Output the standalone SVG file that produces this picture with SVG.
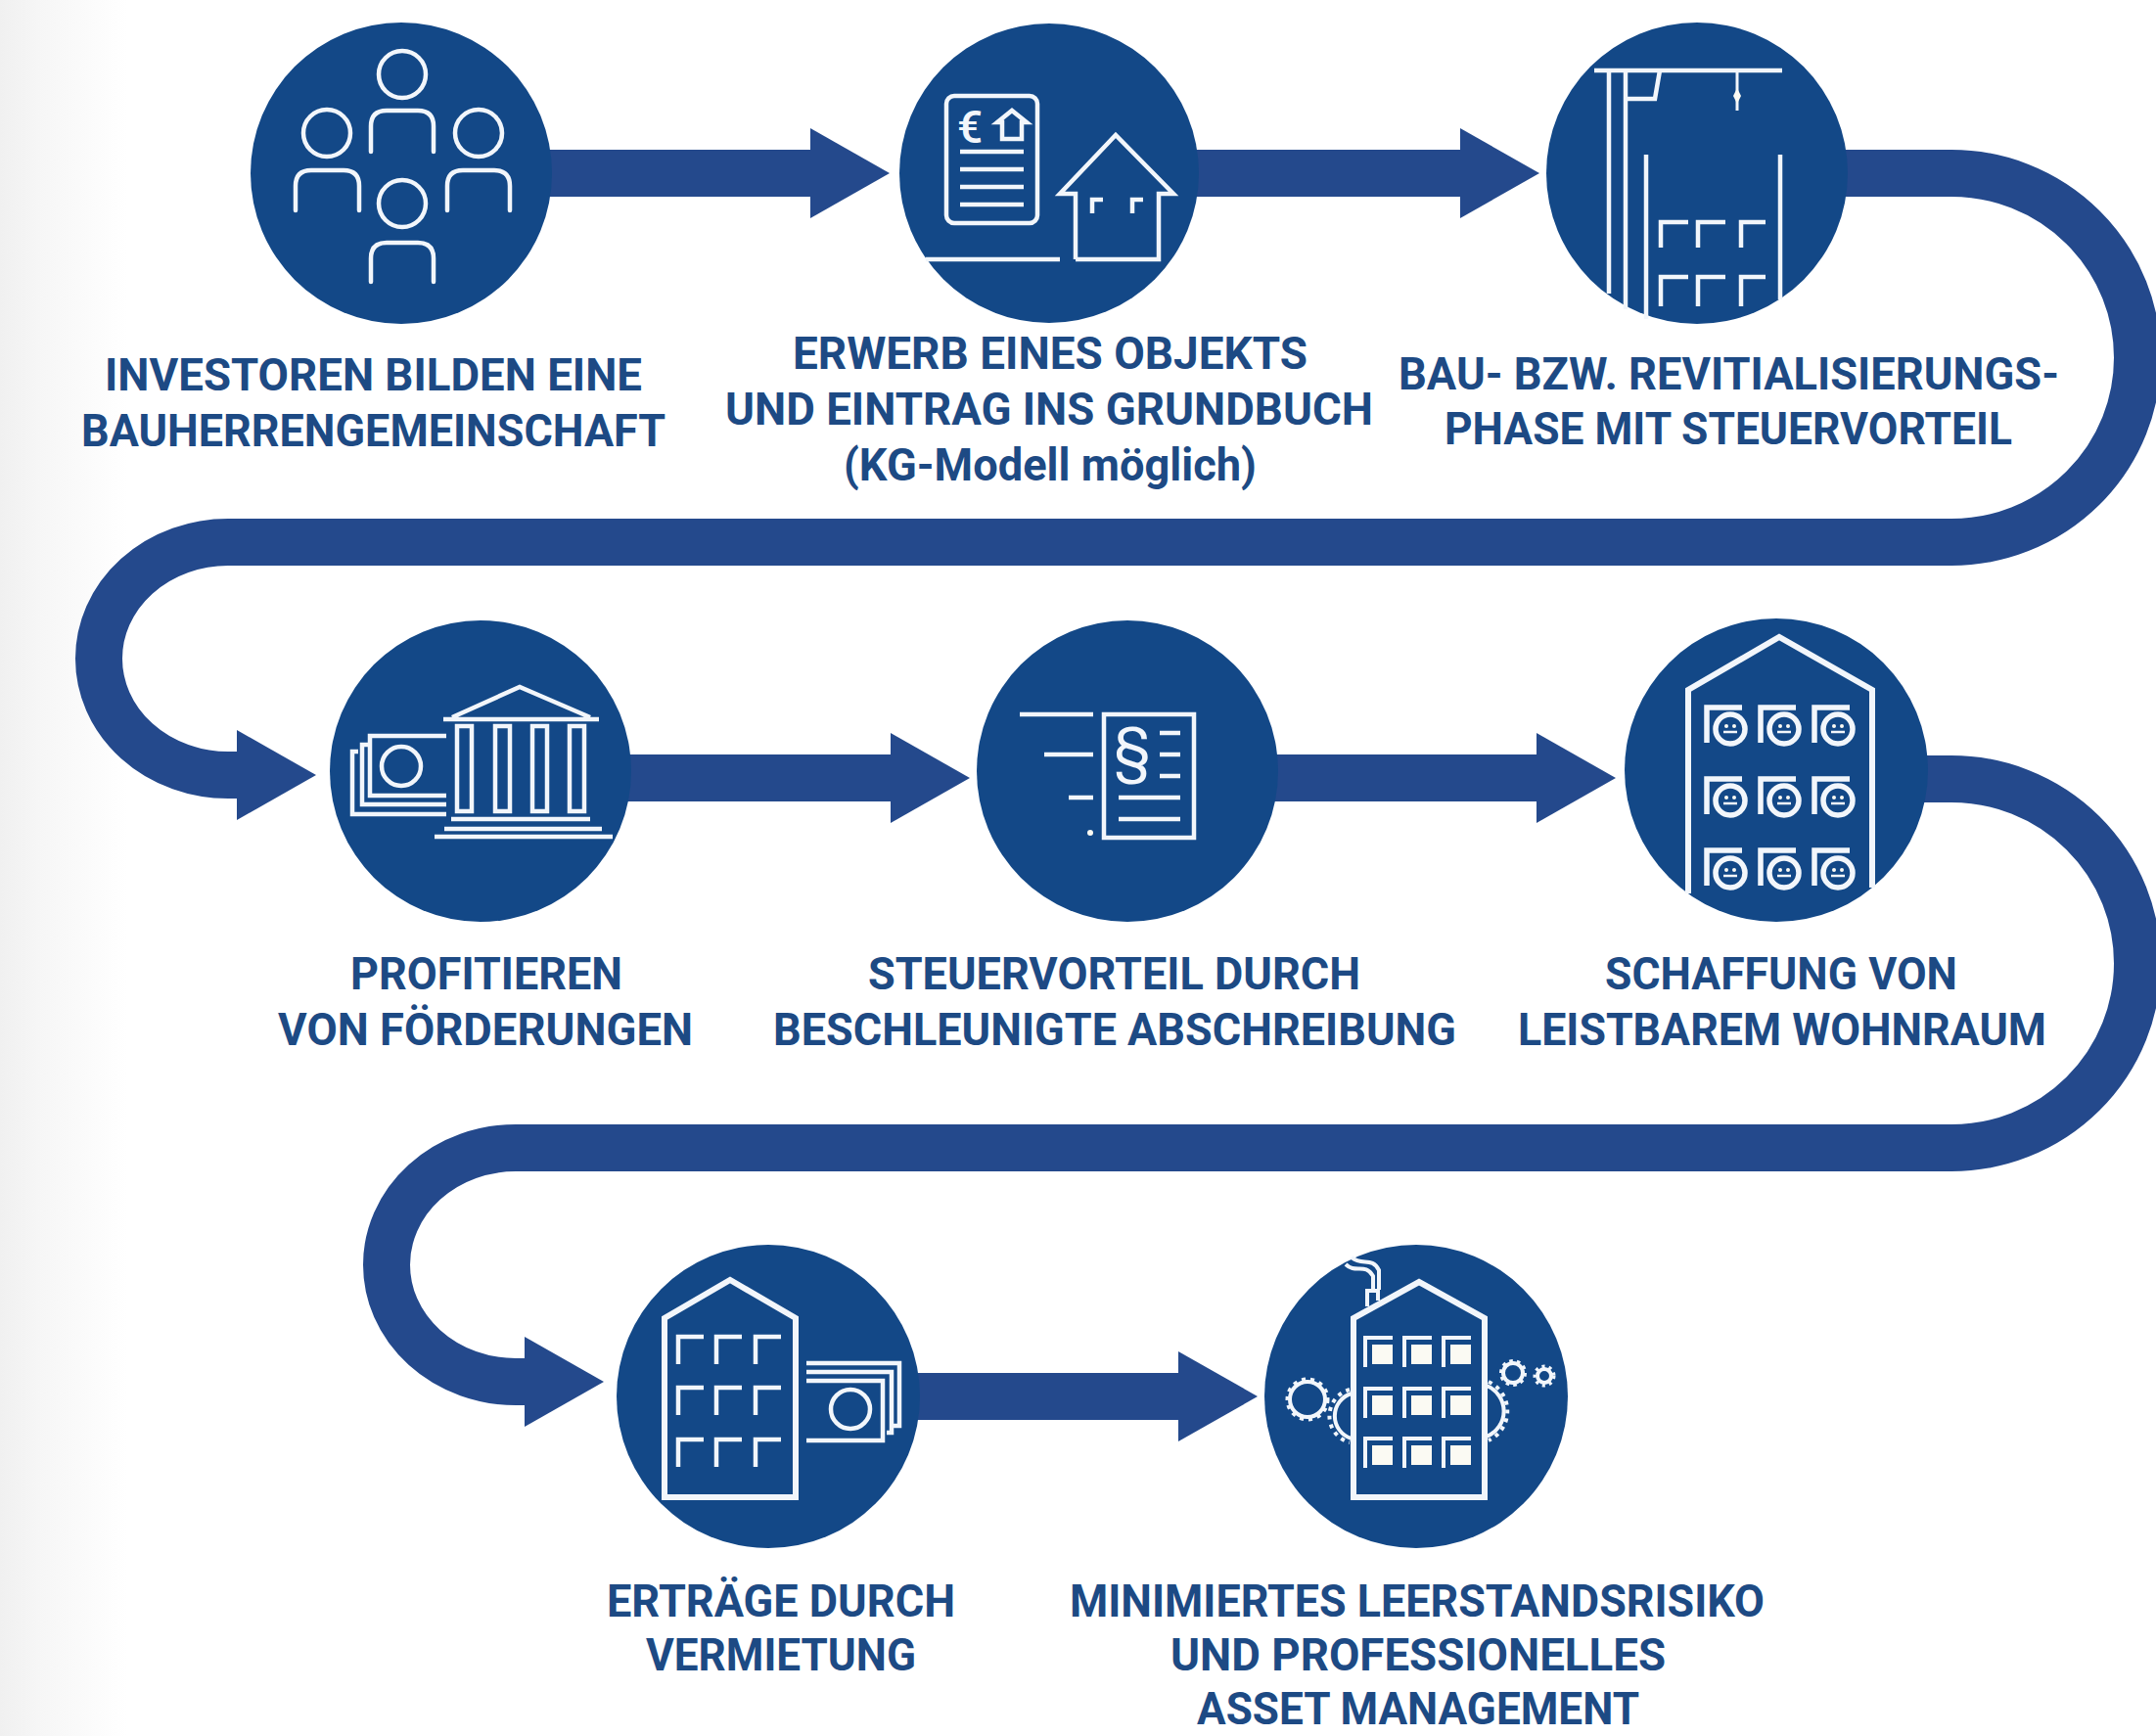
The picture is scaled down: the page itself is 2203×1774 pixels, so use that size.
<svg xmlns="http://www.w3.org/2000/svg" xmlns:xlink="http://www.w3.org/1999/xlink" width="2203" height="1774" viewBox="0 0 2203 1774">
<style>
.disc{fill:#134887}
.ic{fill:none;stroke:#f2f6fb;stroke-width:4.5;stroke-linecap:butt;stroke-linejoin:miter}
.ir{stroke-linecap:round;stroke-linejoin:round}
.t{stroke-width:4}
.fl{fill:#fbfaf3;stroke:none}
.gear{fill:none;stroke:#f2f6fb}
.lb{font-family:"Roboto","Liberation Sans",sans-serif;font-weight:700;font-size:47px;fill:#1d4a84}
.lb.s{font-size:46px}
.sym{font-family:"Roboto","Liberation Sans",sans-serif;fill:#f2f6fb}
.con{fill:none;stroke:#24498c;stroke-width:48}
</style>
<defs>
<linearGradient id="edge" x1="0" x2="1" y1="0" y2="0"><stop offset="0" stop-color="#f0f0f0"/><stop offset=".3" stop-color="#f6f6f6"/><stop offset="1" stop-color="#ffffff"/></linearGradient>
<marker id="head" markerUnits="userSpaceOnUse" markerWidth="82" markerHeight="94" refX="1" refY="46" orient="auto" overflow="visible"><path d="M0 0L81 46L0 92z" fill="#24498c"/></marker>
<path id="gamma" d="M0 28V0H26" class="ic"/>
<g id="face"><circle r="15" class="ic" style="stroke-width:5.5"/><circle cx="-4" cy="-3" r="2" class="fl"/><circle cx="4" cy="-3" r="2" class="fl"/><path d="M-7 3H7" class="ic" style="stroke-width:2.5"/></g>
<path id="gamma2" d="M0 36V0H36" class="ic" style="stroke-width:5.5"/>
<g id="win"><path d="M0 30V0H28" class="ic t"/><rect x="7" y="7" width="21" height="20" class="fl"/></g>
</defs>
<rect width="2203" height="1774" fill="#ffffff"/>
<rect width="130" height="1774" fill="url(#edge)"/>

<g id="connectors">
<path class="con" marker-end="url(#head)" d="M540 177H829"/>
<path class="con" marker-end="url(#head)" d="M1200 177H1493"/>
<path class="con" marker-end="url(#head)" d="M1860 177H1994A190 188.5 0 0 1 1994 554H233A132 119 0 0 0 233 792H243"/>
<path class="con" marker-end="url(#head)" d="M620 795H911"/>
<path class="con" marker-end="url(#head)" d="M1280 795H1571"/>
<path class="con" marker-end="url(#head)" d="M1950 796H1994A190 188.5 0 0 1 1994 1173H527A132 119.5 0 0 0 527 1412H537"/>
<path class="con" marker-end="url(#head)" d="M910 1427H1205"/>
</g>

<g id="node1">
<circle class="disc" cx="410" cy="177" r="154"/>
<g class="ic ir">
<circle cx="411" cy="76" r="24"/><path d="M379 155V129Q379 113 395 113H427Q443 113 443 129V155"/>
<circle cx="334" cy="136" r="24"/><path d="M302 215V190Q302 174 318 174H351Q367 174 367 190V215"/>
<circle cx="489" cy="136" r="24"/><path d="M457 215V190Q457 174 473 174H505Q521 174 521 190V215"/>
<circle cx="411" cy="208" r="24"/><path d="M379 288V264Q379 248 395 248H427Q443 248 443 264V288"/>
</g>
<text class="lb" x="107" y="399" textLength="549" lengthAdjust="spacingAndGlyphs">INVESTOREN BILDEN EINE</text>
<text class="lb" x="83" y="456" textLength="597" lengthAdjust="spacingAndGlyphs">BAUHERRENGEMEINSCHAFT</text>
</g>

<g id="node2">
<circle class="disc" cx="1072" cy="177" r="153"/>
<rect class="ic" x="967" y="98" width="93" height="130" rx="8"/>
<text class="sym" x="991" y="146" font-size="46" font-weight="500" text-anchor="middle">€</text>
<path class="ic" d="M1024 142V125H1019L1034 113L1049 125H1044V142Z"/>
<path class="ic" d="M981 155H1046M981 173H1046M981 191H1046M981 209H1046"/>
<path class="ic" d="M1099 265V198H1083L1140 138L1199 198H1184V265H1099M946 265H1083"/>
<path class="ic" d="M1116 218V204H1127M1157 218V204H1168"/>
<text class="lb" x="810" y="377" textLength="526" lengthAdjust="spacingAndGlyphs">ERWERB EINES OBJEKTS</text>
<text class="lb" x="741" y="434" textLength="662" lengthAdjust="spacingAndGlyphs">UND EINTRAG INS GRUNDBUCH</text>
<text class="lb" x="862" y="491" textLength="422" lengthAdjust="spacingAndGlyphs">(KG-Modell möglich)</text>
</g>

<g id="node3">
<circle class="disc" cx="1734" cy="177" r="154"/>
<path class="ic" d="M1629 72H1821M1644 72V300M1661 72V316M1661 101H1691L1696 72"/>
<path class="ic" d="M1775 72V113" style="stroke-width:3"/><path class="fl" d="M1775 90L1779 98L1775 106L1771 98Z"/>
<path class="ic" d="M1682 158V326M1819 158V306"/>
<path class="ic" d="M1697 253V227H1725M1735 253V227H1763M1779 253V227H1804M1697 313V283H1725M1735 313V283H1763M1779 313V283H1804"/>
<text class="lb" x="1429" y="398" textLength="675" lengthAdjust="spacingAndGlyphs">BAU- BZW. REVITIALISIERUNGS-</text>
<text class="lb" x="1476" y="454" textLength="580" lengthAdjust="spacingAndGlyphs">PHASE MIT STEUERVORTEIL</text>
</g>

<g id="node4">
<circle class="disc" cx="491" cy="788" r="154"/>
<path class="ic" d="M453 735H612M462 733L531 702L603 733"/>
<rect class="ic" x="467" y="742" width="15" height="87"/><rect class="ic" x="506" y="742" width="15" height="87"/><rect class="ic" x="544" y="742" width="15" height="87"/><rect class="ic" x="582" y="742" width="15" height="87"/>
<path class="ic" d="M461 837H603M454 847H615M444 855H626"/>
<path class="ic" d="M456 752H378V813H456M376 761H370V822H456M366 768H360V832H456"/>
<circle class="ic" cx="410" cy="783" r="20"/>
<text class="lb" x="358" y="1011" textLength="278" lengthAdjust="spacingAndGlyphs">PROFITIEREN</text>
<text class="lb" x="284" y="1068" textLength="424" lengthAdjust="spacingAndGlyphs">VON FÖRDERUNGEN</text>
</g>

<g id="node5">
<circle class="disc" cx="1152" cy="788" r="154"/>
<rect class="ic" x="1128" y="730" width="92" height="126"/>
<text class="sym" x="1157" y="787" font-size="62" font-weight="400" text-anchor="middle">§</text>
<path class="ic" d="M1185 749H1206M1185 771H1206M1185 793H1206M1143 815H1206M1143 837H1206M1042 730H1117M1067 771H1117M1092 815H1117"/>
<circle class="fl" cx="1114" cy="851" r="3"/>
<text class="lb" x="887" y="1011" textLength="503" lengthAdjust="spacingAndGlyphs">STEUERVORTEIL DURCH</text>
<text class="lb" x="790" y="1068" textLength="698" lengthAdjust="spacingAndGlyphs">BESCHLEUNIGTE ABSCHREIBUNG</text>
</g>

<g id="node6">
<circle class="disc" cx="1815" cy="787" r="155"/>
<path class="ic" d="M1725 913V705L1818 651L1913 705V907" style="stroke-width:6"/>
<use xlink:href="#gamma2" href="#gamma2" x="1744" y="723"/><use xlink:href="#gamma2" href="#gamma2" x="1799" y="723"/><use xlink:href="#gamma2" href="#gamma2" x="1854" y="723"/>
<use xlink:href="#gamma2" href="#gamma2" x="1744" y="796"/><use xlink:href="#gamma2" href="#gamma2" x="1799" y="796"/><use xlink:href="#gamma2" href="#gamma2" x="1854" y="796"/>
<use xlink:href="#gamma2" href="#gamma2" x="1744" y="869"/><use xlink:href="#gamma2" href="#gamma2" x="1799" y="869"/><use xlink:href="#gamma2" href="#gamma2" x="1854" y="869"/>
<use xlink:href="#face" href="#face" x="1768" y="745"/><use xlink:href="#face" href="#face" x="1823" y="745"/><use xlink:href="#face" href="#face" x="1878" y="745"/>
<use xlink:href="#face" href="#face" x="1768" y="818"/><use xlink:href="#face" href="#face" x="1823" y="818"/><use xlink:href="#face" href="#face" x="1878" y="818"/>
<use xlink:href="#face" href="#face" x="1768" y="892"/><use xlink:href="#face" href="#face" x="1823" y="892"/><use xlink:href="#face" href="#face" x="1878" y="892"/>
<text class="lb" x="1640" y="1011" textLength="360" lengthAdjust="spacingAndGlyphs">SCHAFFUNG VON</text>
<text class="lb" x="1551" y="1068" textLength="540" lengthAdjust="spacingAndGlyphs">LEISTBAREM WOHNRAUM</text>
</g>

<g id="node7">
<circle class="disc" cx="785" cy="1427" r="155"/>
<path class="ic" d="M679 1530V1347L746 1308L813 1347V1530Z" style="stroke-width:6"/>
<use xlink:href="#gamma" href="#gamma" x="693" y="1366"/><use xlink:href="#gamma" href="#gamma" x="732" y="1366"/><use xlink:href="#gamma" href="#gamma" x="772" y="1366"/>
<use xlink:href="#gamma" href="#gamma" x="693" y="1418"/><use xlink:href="#gamma" href="#gamma" x="732" y="1418"/><use xlink:href="#gamma" href="#gamma" x="772" y="1418"/>
<use xlink:href="#gamma" href="#gamma" x="693" y="1471"/><use xlink:href="#gamma" href="#gamma" x="732" y="1471"/><use xlink:href="#gamma" href="#gamma" x="772" y="1471"/>
<path class="ic" d="M824 1393H919V1457H913M824 1402H911V1464H906M824 1411H902V1472H824"/>
<circle class="ic" cx="869" cy="1440" r="20"/>
<text class="lb" x="620" y="1652" textLength="356" lengthAdjust="spacingAndGlyphs">ERTRÄGE DURCH</text>
<text class="lb" x="660" y="1707" textLength="276" lengthAdjust="spacingAndGlyphs">VERMIETUNG</text>
</g>

<g id="node8">
<circle class="disc" cx="1447" cy="1427" r="155"/>
<path class="ic" d="M1383 1530V1347L1450 1310L1517 1347V1530Z" style="stroke-width:6"/>
<path class="ic t" d="M1397 1335V1319H1408V1329"/>
<path class="ic t" d="M1375 1292C1385 1302 1395 1290 1403 1304V1318M1381 1285C1392 1294 1402 1284 1409 1298V1318"/>
<use xlink:href="#win" href="#win" x="1395" y="1367"/><use xlink:href="#win" href="#win" x="1435" y="1367"/><use xlink:href="#win" href="#win" x="1475" y="1367"/>
<use xlink:href="#win" href="#win" x="1395" y="1419"/><use xlink:href="#win" href="#win" x="1435" y="1419"/><use xlink:href="#win" href="#win" x="1475" y="1419"/>
<use xlink:href="#win" href="#win" x="1395" y="1470"/><use xlink:href="#win" href="#win" x="1435" y="1470"/><use xlink:href="#win" href="#win" x="1475" y="1470"/>
<circle class="ic t" cx="1336" cy="1430" r="18"/><circle class="gear" cx="1336" cy="1430" r="20.5" stroke-width="4" stroke-dasharray="4 5"/>
<path class="ic t" d="M1381 1424A24 24 0 0 0 1381 1470"/><path class="gear" d="M1379 1420A28 28 0 0 0 1379 1474" stroke-width="4" stroke-dasharray="4 5"/>
<path class="ic t" d="M1519 1416A28 28 0 0 1 1519 1468"/><path class="gear" d="M1521 1412A33 33 0 0 1 1521 1472" stroke-width="4" stroke-dasharray="4 5"/>
<circle class="ic t" cx="1546" cy="1403" r="10"/><circle class="gear" cx="1546" cy="1403" r="12" stroke-width="4" stroke-dasharray="3.5 4"/>
<circle class="ic t" cx="1578" cy="1406" r="7"/><circle class="gear" cx="1578" cy="1406" r="9.5" stroke-width="4" stroke-dasharray="3 4"/>
<text class="lb s" x="1093" y="1652" textLength="710" lengthAdjust="spacingAndGlyphs">MINIMIERTES LEERSTANDSRISIKO</text>
<text class="lb s" x="1196" y="1707" textLength="506" lengthAdjust="spacingAndGlyphs">UND PROFESSIONELLES</text>
<text class="lb s" x="1223" y="1762" textLength="452" lengthAdjust="spacingAndGlyphs">ASSET MANAGEMENT</text>
</g>
</svg>
